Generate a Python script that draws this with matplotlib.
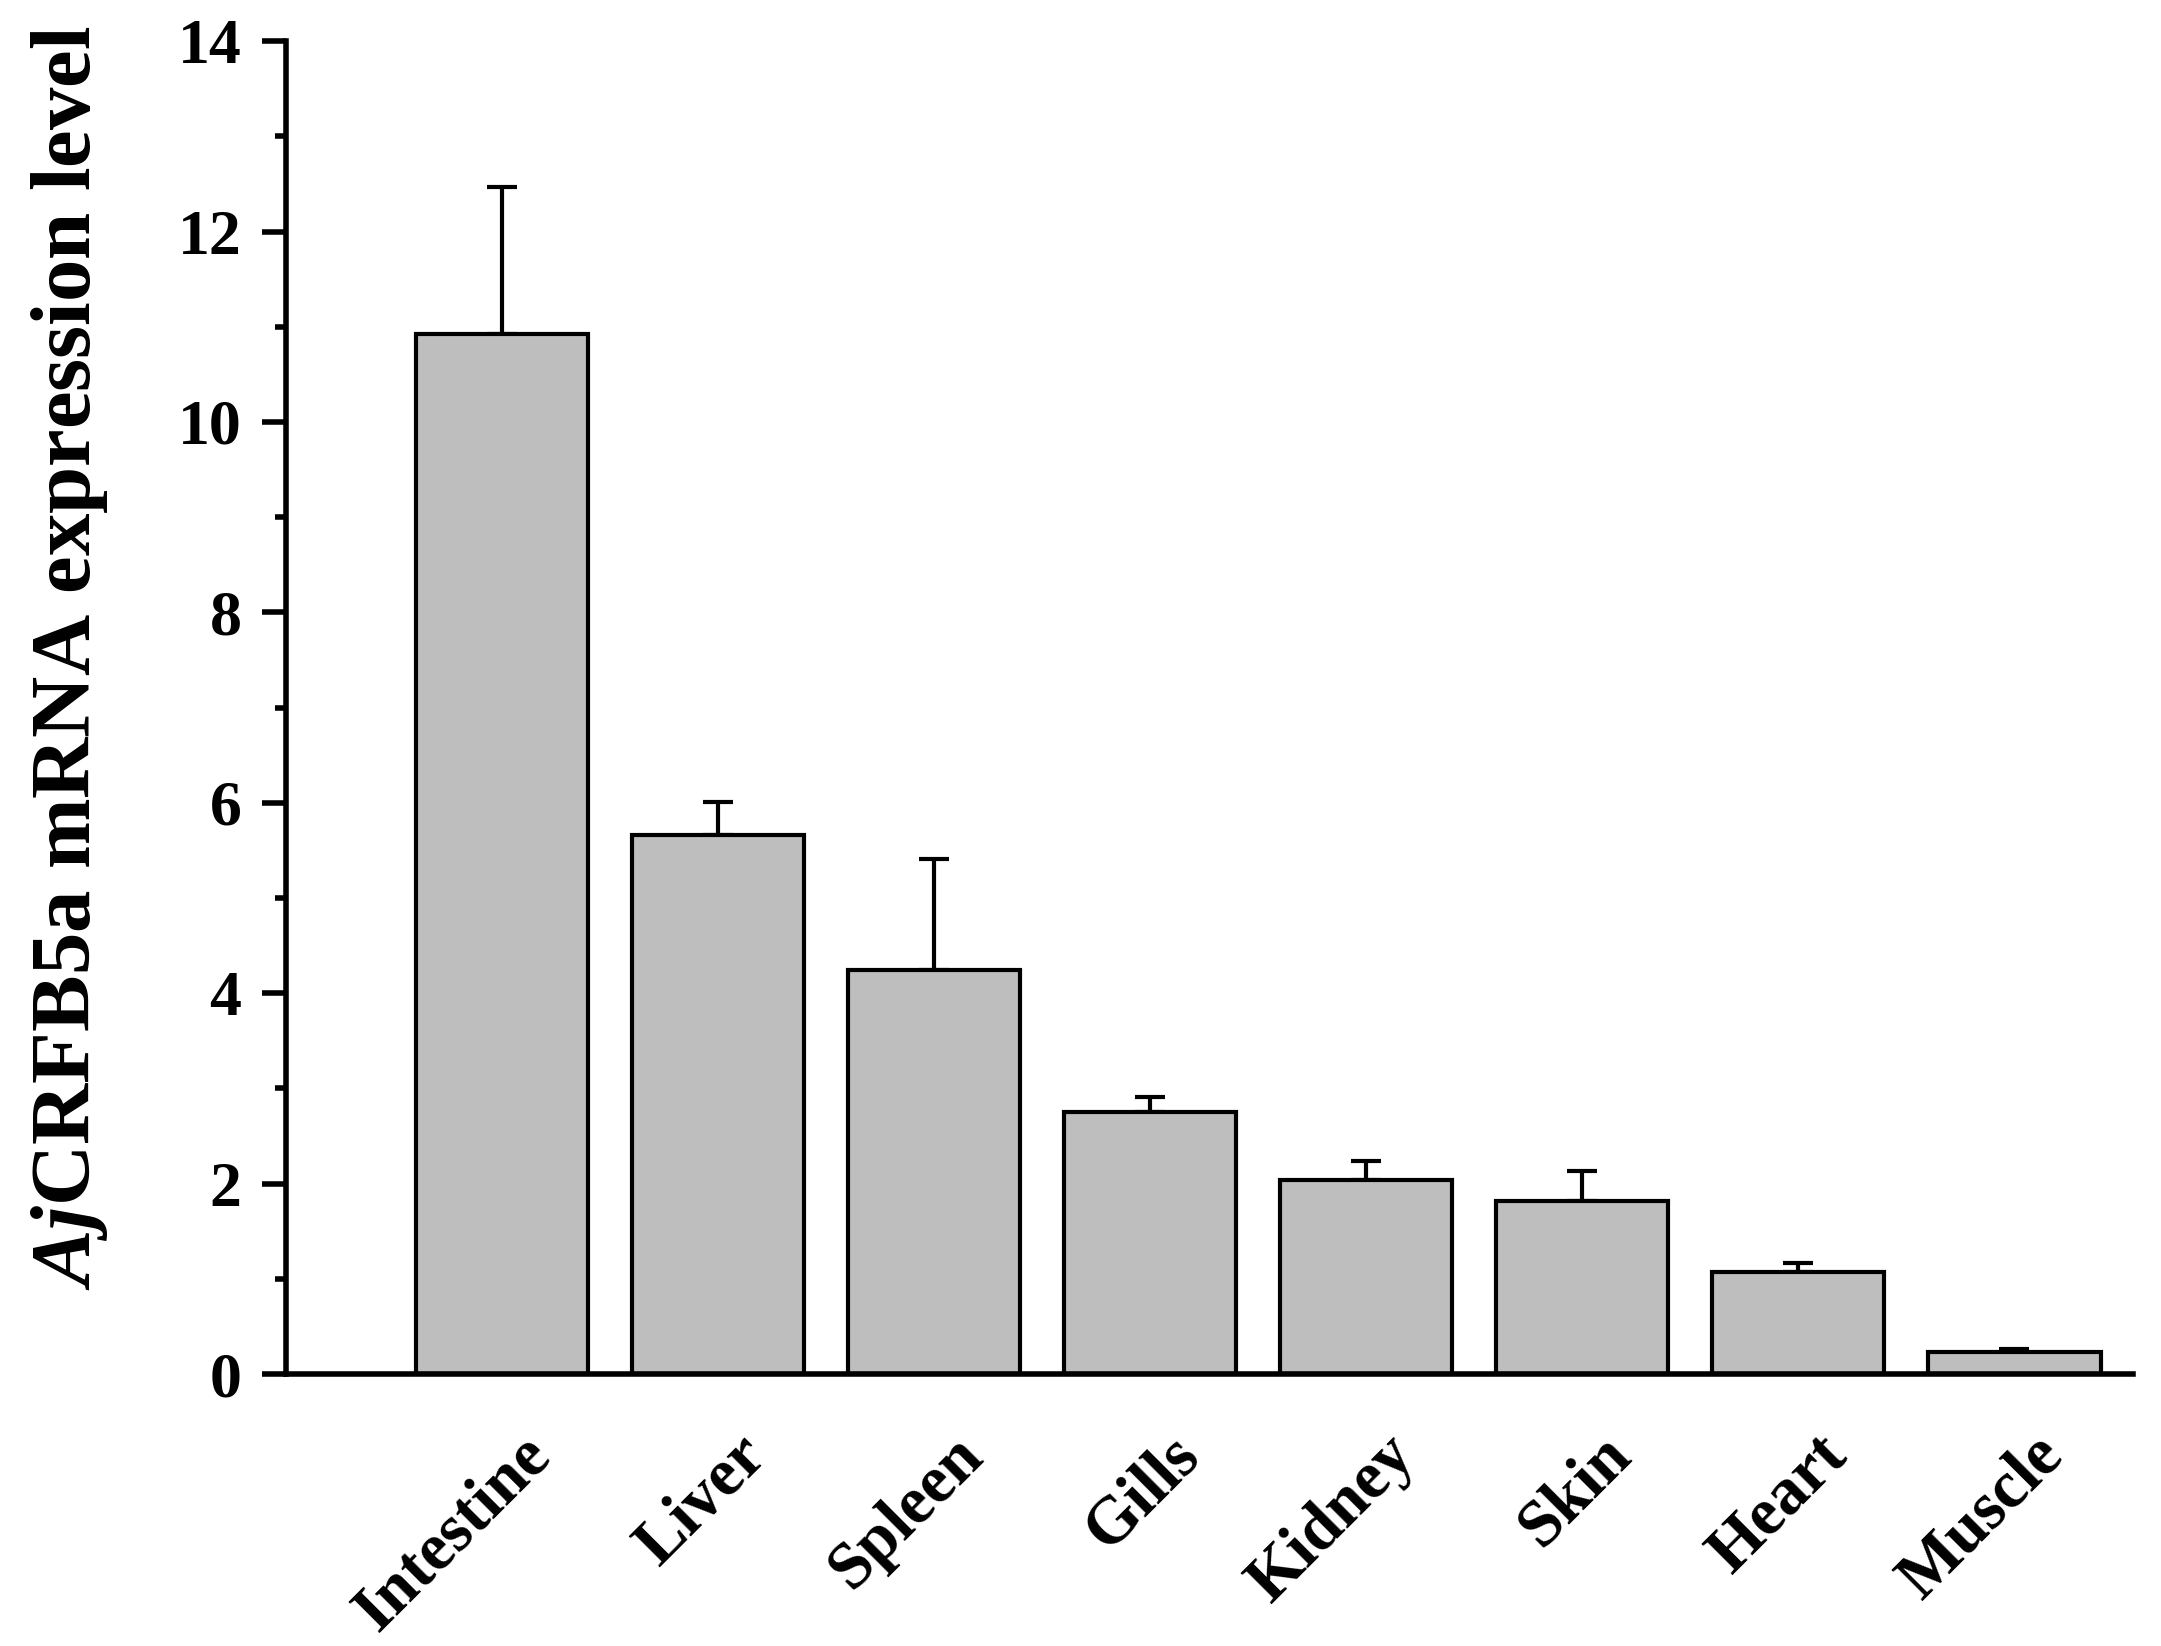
import matplotlib
matplotlib.use("Agg")
import matplotlib.pyplot as plt
import matplotlib.transforms as mtransforms
import numpy as np

# Data
tissues = ["Intestine", "Liver", "Spleen", "Gills", "Kidney", "Skin", "Heart", "Muscle"]
means = [10.92, 5.66, 4.24, 2.75, 2.04, 1.82, 1.07, 0.23]
errors = [1.55, 0.35, 1.17, 0.16, 0.20, 0.31, 0.10, 0.03]

plt.rcParams["font.family"] = ["Liberation Serif", "DejaVu Serif"]
plt.rcParams["font.weight"] = "bold"
plt.rcParams["mathtext.fontset"] = "custom"
plt.rcParams["mathtext.it"] = "Liberation Serif:italic:bold"
plt.rcParams["mathtext.rm"] = "Liberation Serif:bold"

fig = plt.figure(figsize=(21.61, 16.46), dpi=100)
ax = fig.add_axes([0.1323, 0.1652, 0.987 - 0.1323, 0.975 - 0.1652])

x = np.arange(1, len(tissues) + 1)
ax.bar(x, means, width=0.8, color="#bebebe", edgecolor="black", linewidth=3, zorder=2)
ax.errorbar(x, means, yerr=[np.zeros(len(errors)), errors], fmt="none",
            ecolor="black", elinewidth=3, capsize=11, capthick=3, zorder=1)

ax.set_xlim(0, 8.55)
ax.set_ylim(0, 14)
ax.set_yticks(np.arange(0, 15, 2))
ax.set_yticks(np.arange(1, 14, 2), minor=True)

for side in ["top", "right"]:
    ax.spines[side].set_visible(False)
for side in ["left", "bottom"]:
    ax.spines[side].set_linewidth(4)

ax.tick_params(axis="y", which="major", direction="out", length=17, width=4,
               labelsize=46, pad=15)
ax.tick_params(axis="y", which="minor", direction="out", length=8, width=4)
ax.tick_params(axis="x", which="both", length=0, labelsize=48, pad=36)

ax.set_xticks(x)
ax.set_xticklabels(tissues, rotation=45, ha="right", fontweight="bold")
offset = mtransforms.ScaledTranslation(44 / 72, 0, fig.dpi_scale_trans)
for lbl in ax.get_xticklabels():
    lbl.set_transform(lbl.get_transform() + offset)
for lbl in ax.get_yticklabels():
    lbl.set_fontweight("bold")

fig.text(70 / 2161, 1 - 658 / 1646, r"$\mathit{Aj}$CRFB5a mRNA expression level",
         rotation=90, ha="center", va="center", fontsize=61, fontweight="bold")

fig.savefig("out.png", dpi=100)
